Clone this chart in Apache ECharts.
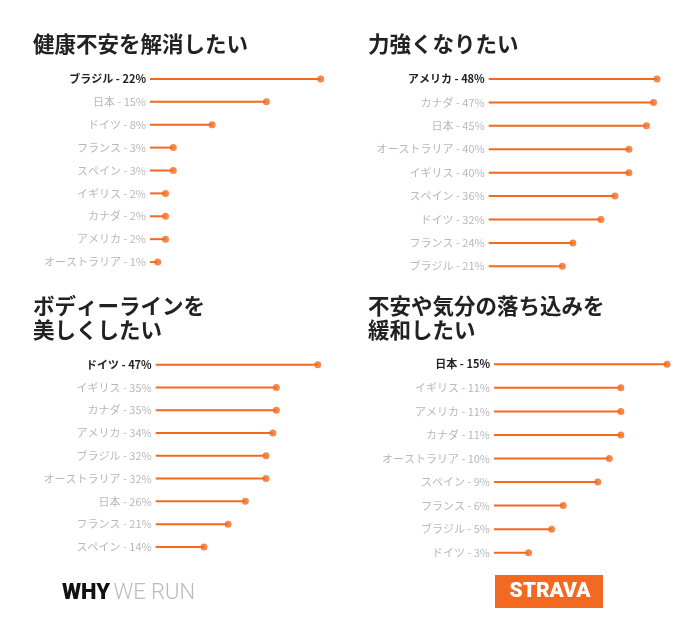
<!DOCTYPE html>
<html>
<head>
<meta charset="utf-8">
<script src="https://cdn.jsdelivr.net/npm/echarts@6/dist/echarts.min.js"></script>
<style>
html, body { margin: 0; padding: 0; background: #fff; }
#main { width: 695px; height: 621px; }
</style>
</head>
<body>
<div id="main"></div>
<script>
// パネルごとのデータ
const titles = ['健康不安を解消したい', '力強くなりたい', 'ボディーラインを\n美しくしたい', '不安や気分の落ち込みを\n緩和したい'];

const countries1 = ['ブラジル', '日本', 'ドイツ', 'フランス', 'スペイン', 'イギリス', 'カナダ', 'アメリカ', 'オーストラリア'];
const values1 = [22, 15, 8, 3, 3, 2, 2, 2, 1];

const countries2 = ['アメリカ', 'カナダ', '日本', 'オーストラリア', 'イギリス', 'スペイン', 'ドイツ', 'フランス', 'ブラジル'];
const values2 = [48, 47, 45, 40, 40, 36, 32, 24, 21];

const countries3 = ['ドイツ', 'イギリス', 'カナダ', 'アメリカ', 'ブラジル', 'オーストラリア', '日本', 'フランス', 'スペイン'];
const values3 = [47, 35, 35, 34, 32, 32, 26, 21, 14];

const countries4 = ['日本', 'イギリス', 'アメリカ', 'カナダ', 'オーストラリア', 'スペイン', 'フランス', 'ブラジル', 'ドイツ'];
const values4 = [15, 11, 11, 11, 10, 9, 6, 5, 3];

const panels = [
    { countries: countries1, values: values1 },
    { countries: countries2, values: values2 },
    { countries: countries3, values: values3 },
    { countries: countries4, values: values4 },
];

// 配置（グリッドとタイトル）
const layout = [
    { grid: { left: 150, top: 67.5, width: 170.7, height: 206 }, title: { left: 33, top: 32 } },
    { grid: { left: 488.7, top: 67.3, width: 168.3, height: 210.7 }, title: { left: 368, top: 32 } },
    { grid: { left: 155.7, top: 353.3, width: 162, height: 205 }, title: { left: 33, top: 294 } },
    { grid: { left: 494, top: 352.5, width: 173, height: 212 }, title: { left: 368, top: 294 } },
];

const ORANGE = '#f26a21';
const FONT = '"Noto Sans CJK JP", "Noto Sans", sans-serif';

const chart = echarts.init(document.getElementById('main'));

const grids = [], xAxes = [], yAxes = [], series = [], titleList = [];

panels.forEach((p, i) => {
    grids.push(Object.assign({ containLabel: false }, layout[i].grid));
    titleList.push({
        text: titles[i],
        left: layout[i].title.left,
        top: layout[i].title.top,
        padding: 0,
        textStyle: { fontFamily: FONT, fontSize: 21.5, fontWeight: 'bold', color: '#222', lineHeight: 24 }
    });
    xAxes.push({
        type: 'value', gridIndex: i, min: 0, max: 'dataMax', show: false
    });
    yAxes.push({
        type: 'category', gridIndex: i, inverse: true, data: p.countries,
        axisLine: { show: false }, axisTick: { show: false }, splitLine: { show: false },
        axisLabel: {
            margin: 4,
            fontFamily: FONT,
            fontSize: 11,
            formatter: (name, idx) => {
                const t = name + ' - ' + p.values[idx] + '%';
                return idx === 0 ? '{hi|' + t + '}' : '{lo|' + t + '}';
            },
            rich: {
                hi: { fontFamily: FONT, fontSize: 11, fontWeight: 'bold', color: '#222' },
                lo: { fontFamily: FONT, fontSize: 11, color: '#b8b8b8' }
            }
        }
    });
    series.push({
        type: 'bar', xAxisIndex: i, yAxisIndex: i, data: p.values,
        barWidth: 2, itemStyle: { color: ORANGE }, silent: true
    });
    series.push({
        type: 'scatter', xAxisIndex: i, yAxisIndex: i, data: p.values,
        symbolSize: 7, itemStyle: { color: ORANGE }, clip: false, silent: true
    });
});

chart.setOption({
    animation: false,
    title: titleList,
    grid: grids,
    xAxis: xAxes,
    yAxis: yAxes,
    series: series,
    graphic: [
        {
            type: 'text', left: 62, top: 582,
            style: {
                text: '{b|WHY} {l|WE RUN}',
                rich: {
                    b: { fontFamily: 'Roboto, sans-serif', fontSize: 22, fontWeight: 900, fill: '#111' },
                    l: { fontFamily: 'Roboto, sans-serif', fontSize: 22, fontWeight: 300, fill: '#bbb' }
                }
            }
        },
        {
            type: 'rect', shape: { x: 495, y: 575, width: 108, height: 33 },
            style: { fill: '#f26a21' }
        },
        {
            type: 'text', x: 550, y: 592,
            style: {
                text: 'STRAVA', align: 'center', verticalAlign: 'middle',
                fontFamily: 'Roboto, sans-serif', fontSize: 21, fontWeight: 900, fill: '#fff'
            }
        }
    ]
});
</script>
</body>
</html>
